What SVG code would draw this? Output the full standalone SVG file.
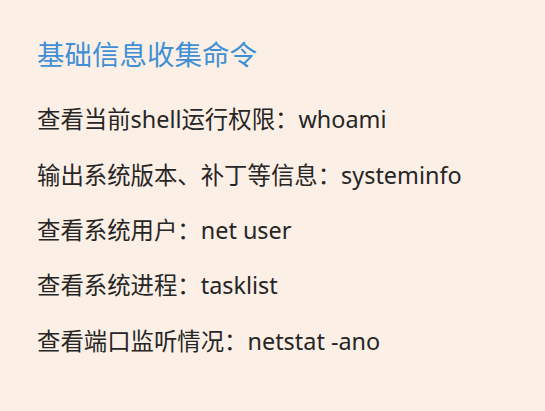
<svg xmlns="http://www.w3.org/2000/svg" width="545" height="411" viewBox="0 0 545 411">
<style>
.t{font-family:"Noto Sans","Noto Sans CJK SC",sans-serif;}
.title{font-size:27.5px;fill:#3f8fd6;}
.line{font-size:23.4px;fill:#262626;}
</style>
<rect x="0" y="0" width="545" height="411" fill="#fcefe5"/>
<g id="title"><text class="t title" x="37" y="65">基础信息收集命令</text></g>
<g id="item1"><text class="t line" x="37" y="128">查看当前shell运行权限：whoami</text></g>
<g id="item2"><text class="t line" x="37" y="184">输出系统版本、补丁等信息：systeminfo</text></g>
<g id="item3"><text class="t line" x="37" y="239">查看系统用户：net user</text></g>
<g id="item4"><text class="t line" x="37" y="294">查看系统进程：tasklist</text></g>
<g id="item5"><text class="t line" x="37" y="350">查看端口监听情况：netstat -ano</text></g>
<g id="connectors"></g>
</svg>
